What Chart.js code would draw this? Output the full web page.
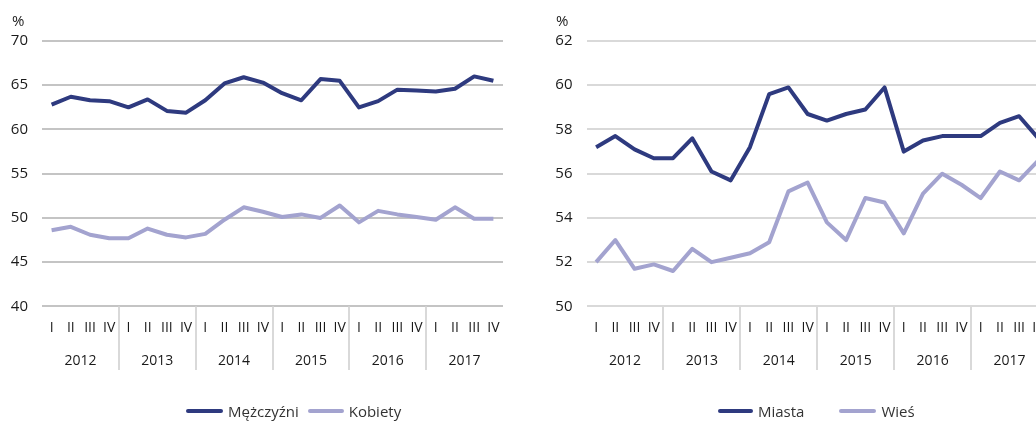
<!DOCTYPE html>
<html>
<head>
<meta charset="utf-8">
<script src="https://cdn.jsdelivr.net/npm/chart.js@4/dist/chart.umd.min.js"></script>
<style>
  html, body { margin: 0; padding: 0; background: #fff; overflow: hidden; }
  body { width: 1036px; height: 421px; position: relative; font-family: "Open Sans", "Noto Sans", sans-serif; }
  canvas { position: absolute; top: 0; }
  .unit { position: absolute; top: 10px; font-size: 15px; color: #222; }
  .legend { position: absolute; top: 401px; font-size: 15px; color: #333; display: flex; align-items: center; white-space: nowrap; }
  .legend i { display: inline-block; height: 4px; border-radius: 2px; margin-right: 5px; }
</style>
</head>
<body>

<canvas id="leftChart" width="510" height="421" style="left:0"></canvas>
<canvas id="rightChart" width="528" height="421" style="left:520px"></canvas>

<div class="unit" style="left:12px">%</div>
<div class="unit" style="left:556px">%</div>

<div class="legend" style="left:186px">
  <i style="width:37px;background:#2e3a7f"></i><span>Mężczyźni</span>
  <i style="width:36px;background:#a3a3cf;margin-left:9px"></i><span>Kobiety</span>
</div>
<div class="legend" style="left:718px">
  <i style="width:35px;background:#2e3a7f"></i><span>Miasta</span>
  <i style="width:37px;background:#a3a3cf;margin-left:35px"></i><span>Wieś</span>
</div>

<script>
const years = ["2012", "2013", "2014", "2015", "2016", "2017"];
const quarters = ["I", "II", "III", "IV"];
const categories = years.flatMap(() => quarters);

// płeć
const men   = [62.8, 63.7, 63.3, 63.2, 62.5, 63.4, 62.1, 61.9, 63.3, 65.2, 65.9, 65.3,
               64.1, 63.3, 65.7, 65.5, 62.5, 63.2, 64.5, 64.4, 64.3, 64.6, 66.0, 65.5];
const women = [48.6, 49.0, 48.1, 47.7, 47.7, 48.8, 48.1, 47.8, 48.2, 49.8, 51.2, 50.7,
               50.1, 50.4, 50.0, 51.4, 49.5, 50.8, 50.4, 50.1, 49.8, 51.2, 49.9, 49.9];

// miejsce zamieszkania
const city  = [57.2, 57.7, 57.1, 56.7, 56.7, 57.6, 56.1, 55.7, 57.2, 59.6, 59.9, 58.7,
               58.4, 58.7, 58.9, 59.9, 57.0, 57.5, 57.7, 57.7, 57.7, 58.3, 58.6, 57.6];
const rural = [52.0, 53.0, 51.7, 51.9, 51.6, 52.6, 52.0, 52.2, 52.4, 52.9, 55.2, 55.6,
               53.8, 53.0, 54.9, 54.7, 53.3, 55.1, 56.0, 55.5, 54.9, 56.1, 55.7, 56.6];

const leftTicks  = { min: 40, max: 70, step: 5 };
const rightTicks = { min: 50, max: 62, step: 2 };

const DARK = "#2e3a7f";
const LIGHT = "#a3a3cf";
const FONT = "'Open Sans', 'Noto Sans', sans-serif";

// pionowe kreski między latami
const yearSeparators = {
  id: "yearSeparators",
  afterDraw(chart) {
    const x = chart.scales.x;
    const ctx = chart.ctx;
    const top = chart.chartArea.bottom;
    ctx.save();
    ctx.strokeStyle = chart.options.plugins.yearSeparators.color;
    ctx.lineWidth = 2;
    for (let i = 4; i < categories.length; i += 4) {
      const px = Math.round((x.getPixelForValue(i - 1) + x.getPixelForValue(i)) / 2);
      ctx.beginPath();
      ctx.moveTo(px, top);
      ctx.lineTo(px, 370);
      ctx.stroke();
    }
    ctx.restore();
  }
};

// bez dodatkowego marginesu na etykiety osi X
const noSidePadding = s => { s.paddingLeft = 0; s.paddingRight = 0; };

function makeChart(id, series, names, ticks, yWidth, gridColor, padRight) {
  const ctx = document.getElementById(id).getContext("2d");
  return new Chart(ctx, {
    type: "line",
    data: {
      labels: categories,
      datasets: [
        { label: names[0], data: series[0], borderColor: DARK, backgroundColor: DARK },
        { label: names[1], data: series[1], borderColor: LIGHT, backgroundColor: LIGHT }
      ]
    },
    options: {
      responsive: false,
      animation: false,
      devicePixelRatio: 1,
      layout: { padding: { top: 41, bottom: 49, left: 0, right: padRight } },
      elements: {
        line: { borderWidth: 4, tension: 0, borderJoinStyle: "round" },
        point: { radius: 0, hoverRadius: 0 }
      },
      plugins: {
        legend: { display: false },
        tooltip: { enabled: false },
        yearSeparators: { color: "#d9d9d9" }
      },
      scales: {
        y: {
          min: ticks.min,
          max: ticks.max,
          afterFit: s => { s.width = yWidth; },
          border: { display: false },
          grid: { color: gridColor, lineWidth: 2, drawTicks: false },
          ticks: { stepSize: ticks.step, padding: 14, color: "#1a1a1a", font: { family: FONT, size: 15 } }
        },
        x: {
          weight: 0,
          offset: true,
          afterFit: noSidePadding,
          border: { display: false },
          grid: { display: false, drawTicks: false },
          ticks: { autoSkip: false, maxRotation: 0, padding: 13, color: "#1a1a1a", font: { family: FONT, size: 14 } }
        },
        x2: {
          type: "category",
          labels: years,
          position: "bottom",
          weight: 1,
          offset: true,
          afterFit: noSidePadding,
          border: { display: false },
          grid: { display: false, drawTicks: false },
          ticks: { autoSkip: false, maxRotation: 0, padding: 3, color: "#1a1a1a", font: { family: FONT, size: 14 } }
        }
      }
    },
    plugins: [yearSeparators]
  });
}

document.addEventListener("DOMContentLoaded", () => {
  makeChart("leftChart", [men, women], ["Mężczyźni", "Kobiety"], leftTicks, 42, "#c4c4c4", 7);
  makeChart("rightChart", [city, rural], ["Miasta", "Wieś"], rightTicks, 66.5, "#d9d9d9", 0);
});
</script>
</body>
</html>
